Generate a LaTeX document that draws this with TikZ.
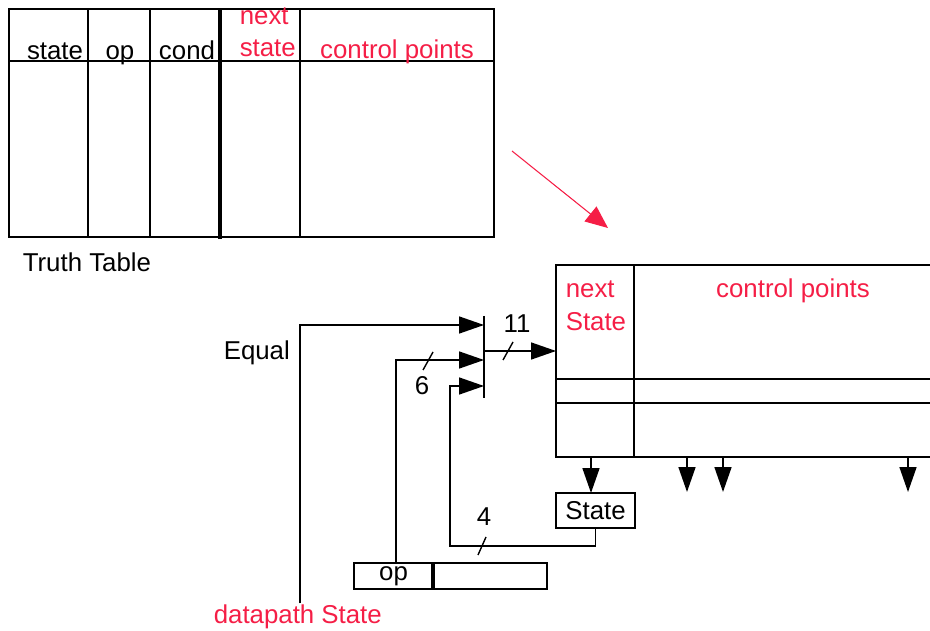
\documentclass[tikz,border=0pt]{standalone}
\usepackage{fontspec}
\setmainfont{Liberation Sans}
\usepackage{tikz}
\usetikzlibrary{arrows.meta,positioning}
\definecolor{hotred}{RGB}{245,30,70}

\begin{document}
\begin{tikzpicture}[
    x=0.02cm, y=-0.02cm,
    line width=0.9pt,
    >={Triangle[length=0.5cm,width=0.34cm]},
    lbl/.style={font=\fontsize{14.7}{17}\selectfont, inner sep=0pt, anchor=base},
    redlbl/.style={lbl, text=hotred},
    regbox/.style={draw, inner sep=0pt, outer sep=0pt, minimum height=0.52cm, font=\fontsize{14.7}{17}\selectfont},
    wire/.style={->, line width=0.9pt},
    slash/.style={line width=0.8pt}
]
\useasboundingbox (0,0) rectangle (930,631);

% truth table
\draw (9,9) rectangle (494,237);
\draw (9,61) -- (494,61);
\foreach \x in {88,150,300} \draw (\x,9) -- (\x,237);
\draw[line width=2.8pt] (220,9) -- (220,239);
\node[lbl] (tstate) at (55,60) {state};
\node[lbl] (top) at (120,60) {op};
\node[lbl] (tcond) at (187,60) {cond};
\node[redlbl, anchor=base west] (tnext) at (239,25) {next};
\node[redlbl, anchor=base west] (tnstate) at (239,57) {state};
\node[redlbl] (tctrl) at (397,59) {control points};
\node[lbl, anchor=base west] (ttitle) at (22,272) {Truth Table};

% red arrow
\draw[hotred, line width=0.6pt, -{Triangle[length=0.45cm,width=0.38cm]}] (512,151) -- (608,228);

% ROM on the right
\draw (930,265) -- (556,265) -- (556,457) -- (930,457);
\draw (634,265) -- (634,457);
\draw (556,379) -- (930,379);
\draw (556,403) -- (930,403);
\node[redlbl, anchor=base west] (rnext) at (565,298) {next};
\node[redlbl, anchor=base west] (rnstate) at (565,331) {State};
\node[redlbl] (rctrl) at (793,298) {control points};
\coordinate (rin) at (556,351);

% state register
\node[regbox, minimum width=1.58cm, minimum height=0.7cm] (stbox) at (595.5,510.5) {State};
\coordinate (nsbot) at (591,457);
\draw[wire] (nsbot) -- (nsbot |- stbox.north);
\foreach \x in {687,723,908} \draw[wire] (\x,457) -- (\x,492);

% mux
\coordinate (muxtop) at (484,316);
\coordinate (muxbot) at (484,398);
\coordinate (muxin1) at (484,325);
\coordinate (muxin2) at (484,360);
\coordinate (muxin3) at (484,386);
\coordinate (muxout) at (484,351);
\draw (muxtop) -- (muxbot);
\draw[wire] (muxout) -- (rin);
\draw[slash] (503,360) -- (513,342);
\node[lbl] (w11) at (517,333) {11};

% datapath op register
\node[regbox, minimum width=1.58cm] (oppart) at (393.5,576) {op};
\node[regbox, minimum width=2.28cm, right=0pt of oppart] (restpart) {};
\draw[line width=1.8pt] (oppart.north east) -- (oppart.south east);

% inputs
\node[lbl, anchor=base west] (equal) at (223,360) {Equal};
\node[redlbl, anchor=base west] (dps) at (213,623) {datapath State};
\draw[wire] ([xshift=0.04cm]dps.north) |- (muxin1);
\draw[wire] ([xshift=0.05cm]oppart.north) |- (muxin2);
\draw[slash] (423,370) -- (433,352);
\node[lbl] (w6) at (422,395) {6};
\coordinate (c4) at (450,546);
\draw[wire] (stbox.south) |- (c4) |- (muxin3);
\draw[slash] (478,555) -- (486,537);
\node[lbl] (w4) at (484,525) {4};
\end{tikzpicture}
\end{document}
